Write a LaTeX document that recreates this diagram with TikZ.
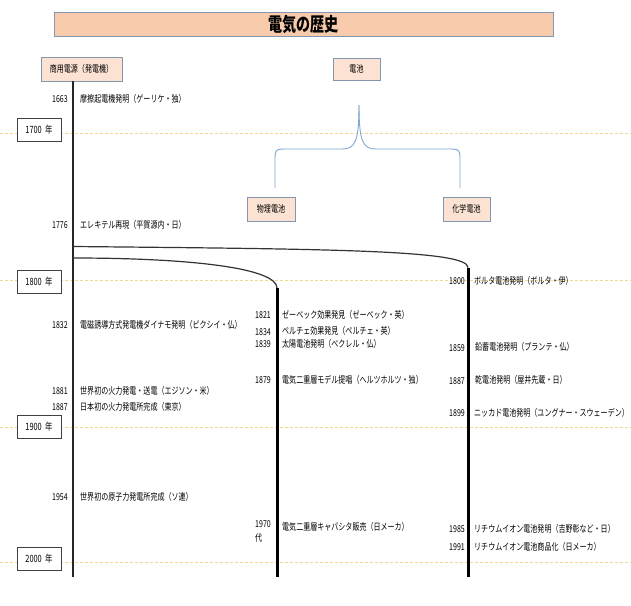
\documentclass[tikz,border=0pt]{standalone}
\usepackage{fontspec}
\setmainfont{Noto Sans CJK JP}[FakeStretch=0.74]
\definecolor{titlefill}{HTML}{F8CBAD}
\definecolor{boxfill}{HTML}{FBE2D2}
\definecolor{boxline}{HTML}{8497B0}
\definecolor{guidecol}{HTML}{F0D890}
\definecolor{bracecol}{HTML}{7FA9D2}
\tikzset{
  titlebox/.style={draw=boxline, fill=titlefill, line width=0.9pt, inner sep=0pt,
    font=\fontsize{19}{20}\selectfont\bfseries},
  catbox/.style={draw=boxline, fill=boxfill, line width=0.9pt, inner sep=0pt,
    font=\fontsize{9.5}{10}\selectfont},
  yearbox/.style={draw=black!75, fill=white, line width=0.7pt, inner sep=0pt,
    minimum width=44pt, minimum height=23pt, font=\fontsize{10}{11}\selectfont},
  yr/.style={anchor=east, inner sep=0pt, font=\fontsize{9.5}{10}\selectfont},
  ev/.style={anchor=west, inner sep=0pt, font=\fontsize{9.5}{10}\selectfont},
  guide/.style={guidecol, line width=0.6pt, dash pattern=on 3pt off 2pt},
  thinline/.style={black!85, line width=1.6pt},
  thickline/.style={black, line width=3pt},
  branch/.style={black!80, line width=1.2pt},
  bracestyle/.style={bracecol, line width=0.9pt}
}
\begin{document}
\begin{tikzpicture}[x=1pt,y=-1pt]
\useasboundingbox (0,0) rectangle (631,605);
\fill[white] (0,0) rectangle (631,605);
% guide lines
\draw[guide] (0,133) -- (631,133);
\draw[guide] (0,280) -- (631,280);
\draw[guide] (0,427) -- (631,427);
\draw[guide] (0,562) -- (631,562);
% title and category boxes
\node[titlebox, minimum width=499pt, minimum height=24pt] (title) at (303.5,24) {電気の歴史};
\node[catbox, minimum width=81pt, minimum height=24pt] (gen) at (81.5,69) {商用電源（発電機）};
\node[catbox, minimum width=47pt, minimum height=22pt] (batt) at (356.5,69) {電池};
\node[catbox, minimum width=48pt, minimum height=24pt] (phys) at (271,209) {物理電池};
\node[catbox, minimum width=47pt, minimum height=24pt] (chem) at (466.5,209) {化学電池};
% brace
\coordinate (btip) at (359,105);
\coordinate (bl) at (275,188);
\coordinate (br) at (460,188);
\draw[bracestyle] (bl) -- (275,162) .. controls (275,149) .. (288,149) -- (342,149)
  .. controls (355,149) and (359,142) .. (btip);
\draw[bracestyle] (btip) .. controls (359,142) and (363,149) .. (376,149) -- (447,149)
  .. controls (460,149) .. (460,162) -- (br);
% timeline lines
\coordinate (ltop) at (73,81);
\coordinate (lbot) at (73,577);
\coordinate (a1) at (73,246.5);
\coordinate (a2) at (73,258);
\coordinate (mtop) at (277,288);
\coordinate (mbot) at (277,577);
\coordinate (rtop) at (468,267.5);
\coordinate (rbot) at (468,577);
\draw[thinline] (ltop) -- (lbot);
\draw[branch] (a1) .. controls (330,249) and (468,250) .. (rtop);
\draw[branch] (a2) .. controls (190,258) and (277,268) .. (mtop);
\draw[thickline] (mtop) -- (mbot);
\draw[thickline] (rtop) -- (rbot);
% year boxes
\node[yearbox] (y1700) at (39,130) {1700\,\,年};
\node[yearbox] (y1800) at (39,282) {1800\,\,年};
\node[yearbox] (y1900) at (39,427) {1900\,\,年};
\node[yearbox] (y2000) at (39,559) {2000\,\,年};
% left column events
\node[yr] (n1663) at (68,99) {1663};
\node[ev] (e1663) at (80,99) {摩擦起電機発明（ゲーリケ・独）};
\node[yr] (n1776) at (68,225) {1776};
\node[ev] (e1776) at (80,225) {エレキテル再現（平賀源内・日）};
\node[yr] (n1832) at (68,325) {1832};
\node[ev] (e1832) at (80,325) {電磁誘導方式発電機ダイナモ発明（ピクシイ・仏）};
\node[yr] (n1881) at (68,391) {1881};
\node[ev] (e1881) at (80,391) {世界初の火力発電・送電（エジソン・米）};
\node[yr] (n1887a) at (68,407) {1887};
\node[ev] (e1887a) at (80,407) {日本初の火力発電所完成（東京）};
\node[yr] (n1954) at (68,497) {1954};
\node[ev] (e1954) at (80,497) {世界初の原子力発電所完成（ソ連）};
% middle column events
\node[yr] (n1821) at (271,315) {1821};
\node[ev] (e1821) at (282,315) {ゼーベック効果発見（ゼーベック・英）};
\node[yr] (n1834) at (271,332) {1834};
\node[ev] (e1834) at (282,331) {ペルチェ効果発見（ペルチェ・英）};
\node[yr] (n1839) at (271,344) {1839};
\node[ev] (e1839) at (282,344) {太陽電池発明（ベクレル・仏）};
\node[yr] (n1879) at (271,380) {1879};
\node[ev] (e1879) at (282,380) {電気二重層モデル提唱（ヘルツホルツ・独）};
\node[anchor=north west, inner sep=0pt, align=left, font=\fontsize{9.5}{14}\selectfont] (n1970) at (255,520) {1970\\代};
\node[ev] (e1970) at (282,527) {電気二重層キャパシタ販売（日メーカ）};
% right column events
\node[yr] (n1800) at (465,281) {1800};
\node[ev] (e1800) at (474,281) {ボルタ電池発明（ボルタ・伊）};
\node[yr] (n1859) at (465,348) {1859};
\node[ev] (e1859) at (475,347) {鉛蓄電池発明（プランテ・仏）};
\node[yr] (n1887b) at (465,381) {1887};
\node[ev] (e1887b) at (475,380) {乾電池発明（屋井先蔵・日）};
\node[yr] (n1899) at (465,413) {1899};
\node[ev] (e1899) at (474,413) {ニッカド電池発明（ユングナー・スウェーデン）};
\node[yr] (n1985) at (465,529) {1985};
\node[ev] (e1985) at (474,529) {リチウムイオン電池発明（吉野彰など・日）};
\node[yr] (n1991) at (465,547) {1991};
\node[ev] (e1991) at (474,547) {リチウムイオン電池商品化（日メーカ）};
\end{tikzpicture}
\end{document}
